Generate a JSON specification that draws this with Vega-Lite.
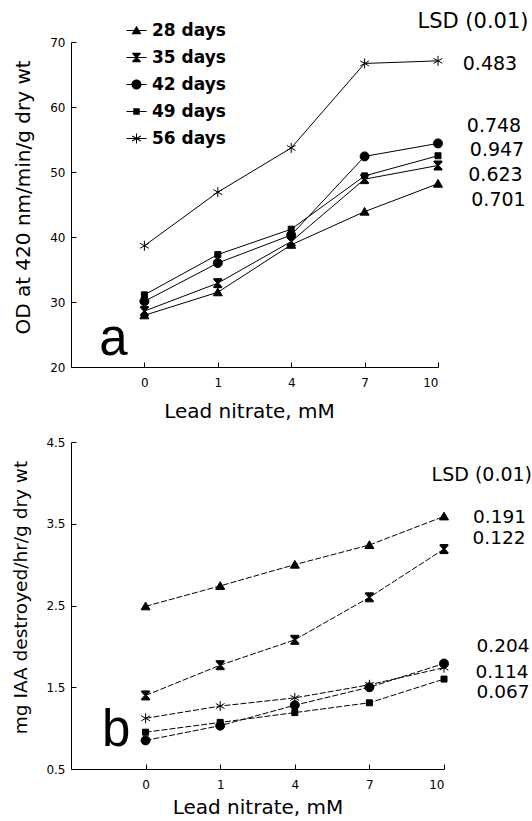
{
  "$schema": "https://vega.github.io/schema/vega-lite/v6.json",
  "background": "white",
  "padding": {"left": 11, "top": 11, "right": 0, "bottom": 0},
  "spacing": 15,
  "config": {
    "view": {"stroke": null},
    "axis": {
      "grid": false, "domainColor": "black", "tickColor": "black", "labelColor": "black", "titleColor": "black",
      "labelFont": "DejaVu Sans", "labelFontSize": 12, "titleFont": "DejaVu Sans", "titleFontWeight": "normal",
      "tickSize": -5, "domainWidth": 1, "tickWidth": 1
    },
    "text": {"font": "DejaVu Sans", "color": "black"}
  },
  "datasets": {
    "a": [
      {"age": "28 days", "level": 1, "nitrate": "0", "value": 27.95},
      {"age": "28 days", "level": 2, "nitrate": "1", "value": 31.5},
      {"age": "28 days", "level": 3, "nitrate": "4", "value": 38.8},
      {"age": "28 days", "level": 4, "nitrate": "7", "value": 43.9},
      {"age": "28 days", "level": 5, "nitrate": "10", "value": 48.2},
      {"age": "35 days", "level": 1, "nitrate": "0", "value": 28.6},
      {"age": "35 days", "level": 2, "nitrate": "1", "value": 32.9},
      {"age": "35 days", "level": 3, "nitrate": "4", "value": 39.3},
      {"age": "35 days", "level": 4, "nitrate": "7", "value": 48.9},
      {"age": "35 days", "level": 5, "nitrate": "10", "value": 51.0},
      {"age": "42 days", "level": 1, "nitrate": "0", "value": 30.1},
      {"age": "42 days", "level": 2, "nitrate": "1", "value": 36.0},
      {"age": "42 days", "level": 3, "nitrate": "4", "value": 40.3},
      {"age": "42 days", "level": 4, "nitrate": "7", "value": 52.4},
      {"age": "42 days", "level": 5, "nitrate": "10", "value": 54.4},
      {"age": "49 days", "level": 1, "nitrate": "0", "value": 31.1},
      {"age": "49 days", "level": 2, "nitrate": "1", "value": 37.3},
      {"age": "49 days", "level": 3, "nitrate": "4", "value": 41.2},
      {"age": "49 days", "level": 4, "nitrate": "7", "value": 49.4},
      {"age": "49 days", "level": 5, "nitrate": "10", "value": 52.5},
      {"age": "56 days", "level": 1, "nitrate": "0", "value": 38.65},
      {"age": "56 days", "level": 2, "nitrate": "1", "value": 46.9},
      {"age": "56 days", "level": 3, "nitrate": "4", "value": 53.7},
      {"age": "56 days", "level": 4, "nitrate": "7", "value": 66.7},
      {"age": "56 days", "level": 5, "nitrate": "10", "value": 67.1}
    ],
    "b": [
      {"age": "28 days", "level": 1, "nitrate": "0", "value": 2.49},
      {"age": "28 days", "level": 2, "nitrate": "1", "value": 2.74},
      {"age": "28 days", "level": 3, "nitrate": "4", "value": 3.0},
      {"age": "28 days", "level": 4, "nitrate": "7", "value": 3.24},
      {"age": "28 days", "level": 5, "nitrate": "10", "value": 3.59},
      {"age": "35 days", "level": 1, "nitrate": "0", "value": 1.4},
      {"age": "35 days", "level": 2, "nitrate": "1", "value": 1.77},
      {"age": "35 days", "level": 3, "nitrate": "4", "value": 2.08},
      {"age": "35 days", "level": 4, "nitrate": "7", "value": 2.6},
      {"age": "35 days", "level": 5, "nitrate": "10", "value": 3.19},
      {"age": "42 days", "level": 1, "nitrate": "0", "value": 0.85},
      {"age": "42 days", "level": 2, "nitrate": "1", "value": 1.03},
      {"age": "42 days", "level": 3, "nitrate": "4", "value": 1.28},
      {"age": "42 days", "level": 4, "nitrate": "7", "value": 1.5},
      {"age": "42 days", "level": 5, "nitrate": "10", "value": 1.79},
      {"age": "49 days", "level": 1, "nitrate": "0", "value": 0.95},
      {"age": "49 days", "level": 2, "nitrate": "1", "value": 1.07},
      {"age": "49 days", "level": 3, "nitrate": "4", "value": 1.19},
      {"age": "49 days", "level": 4, "nitrate": "7", "value": 1.31},
      {"age": "49 days", "level": 5, "nitrate": "10", "value": 1.6},
      {"age": "56 days", "level": 1, "nitrate": "0", "value": 1.12},
      {"age": "56 days", "level": 2, "nitrate": "1", "value": 1.27},
      {"age": "56 days", "level": 3, "nitrate": "4", "value": 1.37},
      {"age": "56 days", "level": 4, "nitrate": "7", "value": 1.53},
      {"age": "56 days", "level": 5, "nitrate": "10", "value": 1.74}
    ]
  },
  "resolve": {
    "scale": {"x": "independent", "y": "independent", "shape": "independent"},
    "legend": {"shape": "independent"}
  },
  "vconcat": [
    {
      "width": 367,
      "height": 325,
      "resolve": {"scale": {"shape": "independent"}, "legend": {"shape": "independent"}},
      "layer": [
        {
          "data": {"name": "a"},
          "mark": {"type": "line", "color": "black", "strokeWidth": 1},
          "encoding": {
            "x": {"field": "level", "type": "quantitative", "scale": {"domain": [0, 5], "nice": false, "zero": false},
              "axis": {"values": [1, 2, 3, 4, 5], "labelExpr": "['','0','1','4','7','10'][datum.value]", "labelPadding": 15,
                "title": "Lead nitrate, mM", "titleFontSize": 20, "titlePadding": 13, "titleX": 178}},
            "y": {"field": "value", "type": "quantitative", "scale": {"domain": [20, 70], "nice": false, "zero": false},
              "axis": {"values": [20, 30, 40, 50, 60, 70], "labelPadding": 11,
                "title": "OD at 420 nm/min/g dry wt", "titleFontSize": 20, "titlePadding": 16, "titleY": 155}},
            "detail": {"field": "age"}
          }
        },
        {
          "data": {"name": "a"},
          "mark": {"type": "point", "filled": true, "fill": "black", "stroke": "black", "strokeWidth": 1, "opacity": 1, "size": 100},
          "encoding": {
            "x": {"field": "level", "type": "quantitative"},
            "y": {"field": "value", "type": "quantitative"},
            "shape": {
              "field": "age", "type": "nominal",
              "scale": {
                "domain": ["28 days", "35 days", "42 days", "49 days", "56 days"],
                "range": [
                  "M0,-0.85L0.9,0.7L-0.9,0.7Z",
                  "M-0.8,-0.9H0.8V-0.7L0.15,0L0.8,0.7V0.9H-0.8V0.7L-0.15,0L-0.8,-0.7Z",
                  "M0.9,0A0.9,0.9,0,1,1,-0.9,0A0.9,0.9,0,1,1,0.9,0Z",
                  "M-0.6,-0.6H0.6V0.6H-0.6Z",
                  "M0,-1V1M-0.87,-0.5L0.87,0.5M-0.87,0.5L0.87,-0.5"
                ]
              },
              "legend": null
            }
          }
        },
        {
          "data": {"name": "a"},
          "transform": [{"filter": "datum.value > 1000"}],
          "mark": {"type": "point", "filled": true, "fill": "black", "opacity": 1, "size": 100},
          "encoding": {
            "x": {"field": "level", "type": "quantitative"},
            "y": {"field": "value", "type": "quantitative"},
            "shape": {
              "field": "age", "type": "nominal",
              "scale": {
                "domain": ["28 days", "35 days", "42 days", "49 days", "56 days"],
                "range": [
                  "M-2,-0.1H2V0.1H-2ZM0,-0.95L1,0.75L-1,0.75Z",
                  "M-2,-0.1H2V0.1H-2ZM-0.85,-0.95H0.85V-0.7L0.17,0L0.85,0.7V0.95H-0.85V0.7L-0.17,0L-0.85,-0.7Z",
                  "M-2,-0.1H2V0.1H-2ZM1,0A1,1,0,1,1,-1,0A1,1,0,1,1,1,0Z",
                  "M-2,-0.1H2V0.1H-2ZM-0.65,-0.65H0.65V0.65H-0.65Z",
                  "M-2,-0.1H2V0.1H-2ZM-0.1,-1H0.1V1H-0.1ZM-0.82,-0.587L0.92,0.413L0.82,0.587L-0.92,-0.413ZM-0.92,0.413L0.82,-0.587L0.92,-0.413L-0.82,0.587Z"
                ]
              },
              "legend": {
                "title": null, "orient": "none", "legendX": 57, "legendY": -20, "padding": 0,
                "labelFont": "DejaVu Sans", "labelFontSize": 17, "labelFontWeight": "bold", "labelColor": "black",
                "labelOffset": 7, "rowPadding": 9, "symbolSize": 100,
                "symbolFillColor": "black"
              }
            }
          }
        },
        {
          "data": {"values": [{"t": "LSD (0.01)", "x": 5.477, "y": 73.04}]},
          "mark": {"type": "text", "fontSize": 21, "align": "center", "baseline": "middle"},
          "encoding": {
            "x": {"field": "x", "type": "quantitative"},
            "y": {"field": "y", "type": "quantitative"},
            "text": {"field": "t"}
          }
        },
        {
          "data": {"values": [
            {"lsd": "0.483", "x": 5.708, "y": 66.54},
            {"lsd": "0.748", "x": 5.763, "y": 57.02},
            {"lsd": "0.947", "x": 5.804, "y": 53.33},
            {"lsd": "0.623", "x": 5.783, "y": 49.49},
            {"lsd": "0.701", "x": 5.824, "y": 45.65}
          ]},
          "mark": {"type": "text", "fontSize": 19, "align": "center", "baseline": "middle"},
          "encoding": {
            "x": {"field": "x", "type": "quantitative"},
            "y": {"field": "y", "type": "quantitative"},
            "text": {"field": "lsd"}
          }
        },
        {
          "data": {"values": [{"t": "a", "x": 0.579, "y": 21.84}]},
          "mark": {"type": "text", "font": "Liberation Sans", "fontSize": 51, "align": "center", "baseline": "alphabetic"},
          "encoding": {
            "x": {"field": "x", "type": "quantitative"},
            "y": {"field": "y", "type": "quantitative"},
            "text": {"field": "t"}
          }
        }
      ]
    },
    {
      "width": 373,
      "height": 327,
      "layer": [
        {
          "data": {"name": "b"},
          "mark": {"type": "line", "color": "black", "strokeWidth": 1, "strokeDash": [6, 2]},
          "encoding": {
            "x": {"field": "level", "type": "quantitative", "scale": {"domain": [0, 5], "nice": false, "zero": false},
              "axis": {"values": [1, 2, 3, 4, 5], "labelExpr": "['','0','1','4','7','10'][datum.value]", "labelPadding": 15,
                "title": "Lead nitrate, mM", "titleFontSize": 20, "titlePadding": 7}},
            "y": {"field": "value", "type": "quantitative", "scale": {"domain": [0.5, 4.5], "nice": false, "zero": false},
              "axis": {"values": [0.5, 1.5, 2.5, 3.5, 4.5], "format": ".1f", "labelPadding": 11,
                "title": "mg IAA destroyed/hr/g dry wt", "titleFontSize": 18.5, "titlePadding": 15.5, "titleY": 155}},
            "detail": {"field": "age"}
          }
        },
        {
          "data": {"name": "b"},
          "mark": {"type": "point", "filled": true, "fill": "black", "stroke": "black", "strokeWidth": 1, "opacity": 1, "size": 100},
          "encoding": {
            "x": {"field": "level", "type": "quantitative"},
            "y": {"field": "value", "type": "quantitative"},
            "shape": {
              "field": "age", "type": "nominal",
              "scale": {
                "domain": ["28 days", "35 days", "42 days", "49 days", "56 days"],
                "range": [
                  "M0,-0.85L0.9,0.7L-0.9,0.7Z",
                  "M-0.8,-0.9H0.8V-0.7L0.15,0L0.8,0.7V0.9H-0.8V0.7L-0.15,0L-0.8,-0.7Z",
                  "M0.9,0A0.9,0.9,0,1,1,-0.9,0A0.9,0.9,0,1,1,0.9,0Z",
                  "M-0.6,-0.6H0.6V0.6H-0.6Z",
                  "M0,-1V1M-0.87,-0.5L0.87,0.5M-0.87,0.5L0.87,-0.5"
                ]
              },
              "legend": null
            }
          }
        },
        {
          "data": {"values": [{"t": "LSD (0.01)", "x": 6.18, "y": 4.091}]},
          "mark": {"type": "text", "fontSize": 19, "align": "right", "baseline": "middle"},
          "encoding": {
            "x": {"field": "x", "type": "quantitative"},
            "y": {"field": "y", "type": "quantitative"},
            "text": {"field": "t"}
          }
        },
        {
          "data": {"values": [
            {"lsd": "0.191", "x": 5.744, "y": 3.582},
            {"lsd": "0.122", "x": 5.737, "y": 3.325},
            {"lsd": "0.204", "x": 5.791, "y": 2.01},
            {"lsd": "0.114", "x": 5.777, "y": 1.691},
            {"lsd": "0.067", "x": 5.791, "y": 1.446}
          ]},
          "mark": {"type": "text", "fontSize": 18.5, "align": "center", "baseline": "middle"},
          "encoding": {
            "x": {"field": "x", "type": "quantitative"},
            "y": {"field": "y", "type": "quantitative"},
            "text": {"field": "lsd"}
          }
        },
        {
          "data": {"values": [{"t": "b", "x": 0.607, "y": 0.782}]},
          "mark": {"type": "text", "font": "Liberation Sans", "fontSize": 51, "align": "center", "baseline": "alphabetic"},
          "encoding": {
            "x": {"field": "x", "type": "quantitative"},
            "y": {"field": "y", "type": "quantitative"},
            "text": {"field": "t"}
          }
        }
      ]
    }
  ]
}
